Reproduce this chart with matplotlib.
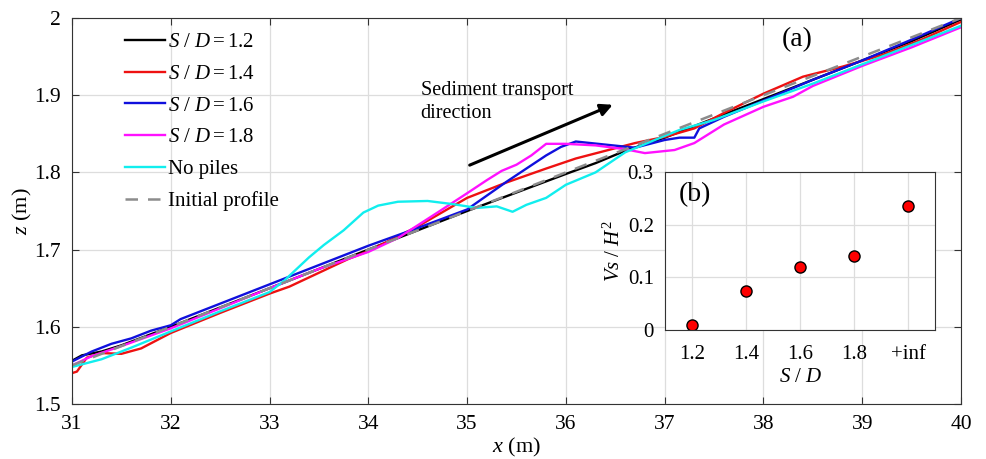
import numpy as np
import matplotlib.pyplot as plt

plt.rcParams["font.family"] = ["Liberation Serif", "DejaVu Serif"]
plt.rcParams["mathtext.fontset"] = "custom"
plt.rcParams["mathtext.rm"] = "Liberation Serif"
plt.rcParams["mathtext.it"] = "Liberation Serif:italic"

# Bed profiles (x in m, z in m)
x_12 = [31, 31.1, 31.3, 31.5, 32, 32.5, 33, 33.5, 34, 34.5, 35, 35.5, 36, 36.3,
        36.6, 37, 37.5, 38, 38.5, 39, 39.5, 40]
z_12 = [1.556, 1.563, 1.568, 1.576, 1.600, 1.625, 1.650, 1.675, 1.700, 1.725, 1.750,
        1.774, 1.798, 1.812, 1.828, 1.845, 1.870, 1.895, 1.920, 1.945, 1.970, 1.998]

x_14 = [31, 31.05, 31.15, 31.3, 31.5, 31.7, 32, 32.5, 33, 33.2, 33.5, 33.8, 34, 34.5,
        35, 35.4, 35.8, 36.1, 36.4, 36.7, 37, 37.3, 37.6, 38, 38.4, 38.8, 39.2, 39.6, 40]
z_14 = [1.540, 1.542, 1.560, 1.566, 1.565, 1.572, 1.592, 1.618, 1.643, 1.652, 1.670,
        1.688, 1.698, 1.730, 1.767, 1.787, 1.805, 1.818, 1.828, 1.838, 1.846, 1.857,
        1.877, 1.902, 1.924, 1.937, 1.952, 1.972, 1.995]

x_16 = [31, 31.2, 31.4, 31.6, 31.8, 32, 32.1, 32.5, 33, 33.5, 34, 34.5, 35, 35.2, 35.4,
        35.6, 35.8, 35.95, 36.1, 36.4, 36.7, 37.0, 37.15, 37.3, 37.35, 37.6, 38, 38.5,
        39, 39.5, 40]
z_16 = [1.555, 1.568, 1.578, 1.585, 1.595, 1.602, 1.610, 1.630, 1.655, 1.680, 1.705,
        1.728, 1.752, 1.770, 1.788, 1.805, 1.822, 1.833, 1.840, 1.836, 1.832, 1.842,
        1.845, 1.845, 1.857, 1.872, 1.893, 1.920, 1.945, 1.972, 2.000]

x_18 = [31, 31.2, 31.5, 32, 32.5, 33, 33.5, 34, 34.3, 34.7, 35.0, 35.2, 35.35, 35.5,
        35.65, 35.8, 36.0, 36.3, 36.6, 36.8, 37.1, 37.3, 37.6, 38.0, 38.3, 38.5, 39,
        39.5, 40]
z_18 = [1.550, 1.562, 1.575, 1.598, 1.624, 1.650, 1.675, 1.697, 1.715, 1.748, 1.773,
        1.790, 1.802, 1.810, 1.822, 1.837, 1.837, 1.835, 1.830, 1.825, 1.829, 1.838,
        1.862, 1.885, 1.898, 1.912, 1.938, 1.962, 1.988]

x_np = [31, 31.3, 31.6, 32, 32.5, 33, 33.15, 33.25, 33.4, 33.55, 33.75, 33.95, 34.1,
        34.3, 34.6, 34.85, 35.1, 35.3, 35.46, 35.6, 35.8, 36.0, 36.3, 36.6, 36.9, 37.15,
        37.5, 38, 38.5, 39, 39.5, 40]
z_np = [1.548, 1.558, 1.573, 1.594, 1.620, 1.645, 1.660, 1.672, 1.690, 1.706, 1.725,
        1.748, 1.757, 1.762, 1.763, 1.759, 1.754, 1.756, 1.749, 1.758, 1.767, 1.784,
        1.800, 1.826, 1.842, 1.855, 1.868, 1.892, 1.915, 1.940, 1.965, 1.990]

x_init = [31, 40]
z_init = [1.55, 2.0]

# Inset (b): normalised scour volume
sd_labels = ["1.2", "1.4", "1.6", "1.8", "+inf"]
vs_h2 = [0.01, 0.075, 0.119, 0.14, 0.235]

fig = plt.figure(figsize=(9.86, 4.59), dpi=100)
ax = fig.add_axes([0.073, 0.1198, 0.9017, 0.841])

ax.plot(x_12, z_12, color="black", lw=1.7, label="$S\\ /\\ D = 1.2$")
ax.plot(x_14, z_14, color="#ee1111", lw=1.7, label="$S\\ /\\ D = 1.4$")
ax.plot(x_16, z_16, color="#1010dd", lw=1.7, label="$S\\ /\\ D = 1.6$")
ax.plot(x_18, z_18, color="#ff11ff", lw=1.7, label="$S\\ /\\ D = 1.8$")
ax.plot(x_np, z_np, color="#11eeee", lw=1.7, label="No piles")
ax.plot(x_init, z_init, "--", color="#8c8c8c", lw=1.8, dashes=(5, 4),
        label="Initial profile")

ax.set_xlim(31, 40)
ax.set_ylim(1.5, 2.0)
ax.set_xticks(range(31, 41))
ax.set_yticks([1.5, 1.6, 1.7, 1.8, 1.9, 2.0])
ax.set_yticklabels(["1.5", "1.6", "1.7", "1.8", "1.9", "2"])
ax.tick_params(direction="in", top=True, right=True, labelsize=15.5, length=5,
               color="#333333", pad=8)
ax.grid(color="#dddddd", lw=0.9)
for s in ax.spines.values():
    s.set_color("#333333")
ax.set_xlabel("$x$ (m)", fontsize=16, labelpad=1)
ax.set_ylabel("$z$ (m)", fontsize=16, labelpad=0)

ax.legend(loc="upper left", bbox_to_anchor=(0.06, 0.962), frameon=False,
          fontsize=15, handlelength=1.9, handletextpad=0.15, labelspacing=0.58,
          borderpad=0, borderaxespad=0)

ax.text(38.34, 1.972, "(a)", fontsize=20, ha="center", va="center")
ax.text(34.53, 1.919, "Sediment transport\ndirection", fontsize=14.5, ha="left",
        va="top", linespacing=1.3)
ax.annotate("", xy=(36.5, 1.889), xytext=(35.0, 1.808),
            arrowprops=dict(arrowstyle="-|>", color="black", lw=2.2,
                            mutation_scale=18))

# inset (b)
axb = fig.add_axes([0.6744, 0.281, 0.274, 0.344])
pos = np.arange(1, len(sd_labels) + 1)
axb.plot(pos, vs_h2, "o", color="red", mec="black", mew=1.0, ms=8)
axb.set_xlim(0.5, 5.5)
axb.set_ylim(0, 0.3)
axb.set_xticks(pos)
axb.set_xticklabels(sd_labels)
axb.set_yticks([0, 0.1, 0.2, 0.3])
axb.set_yticklabels(["0", "0.1", "0.2", "0.3"])
axb.tick_params(direction="in", labelsize=15, length=0, color="#333333")
axb.tick_params(axis="x", pad=11)
axb.tick_params(axis="y", pad=8)
axb.grid(color="#dddddd", lw=0.9)
for s in axb.spines.values():
    s.set_color("#333333")
axb.set_xlabel("$S\\ /\\ D$", fontsize=15, labelpad=3)
axb.set_ylabel("$Vs\\ /\\ H^2$", fontsize=15, labelpad=2)
axb.text(0.11, 0.86, "(b)", transform=axb.transAxes, fontsize=20, ha="center",
         va="center")

fig.savefig("out.png", dpi=100)
